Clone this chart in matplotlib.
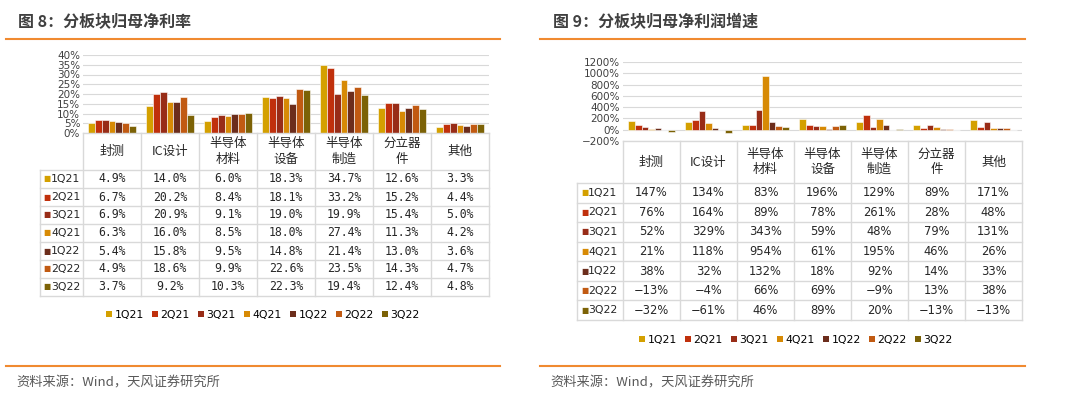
import numpy as np
import matplotlib
matplotlib.use("Agg")
import matplotlib.pyplot as plt
from matplotlib.patches import Patch
from matplotlib.lines import Line2D
from matplotlib.transforms import blended_transform_factory

plt.rcParams['font.family'] = ['Noto Sans CJK SC', 'DejaVu Sans']

categories = ['封测', 'IC设计', '半导体\n材料', '半导体\n设备', '半导体\n制造', '分立器\n件', '其他']
quarters = ['1Q21', '2Q21', '3Q21', '4Q21', '1Q22', '2Q22', '3Q22']
colors = ['#D4A000', '#C0300C', '#982C17', '#D78A05', '#6C2D1C', '#C15A12', '#7C6206']

# 归母净利率 (%)
margin = {
    '1Q21': [4.9, 14.0, 6.0, 18.3, 34.7, 12.6, 3.3],
    '2Q21': [6.7, 20.2, 8.4, 18.1, 33.2, 15.2, 4.4],
    '3Q21': [6.9, 20.9, 9.1, 19.0, 19.9, 15.4, 5.0],
    '4Q21': [6.3, 16.0, 8.5, 18.0, 27.4, 11.3, 4.2],
    '1Q22': [5.4, 15.8, 9.5, 14.8, 21.4, 13.0, 3.6],
    '2Q22': [4.9, 18.6, 9.9, 22.6, 23.5, 14.3, 4.7],
    '3Q22': [3.7, 9.2, 10.3, 22.3, 19.4, 12.4, 4.8],
}
# 归母净利润增速 (%)
growth = {
    '1Q21': [147, 134, 83, 196, 129, 89, 171],
    '2Q21': [76, 164, 89, 78, 261, 28, 48],
    '3Q21': [52, 329, 343, 59, 48, 79, 131],
    '4Q21': [21, 118, 954, 61, 195, 46, 26],
    '1Q22': [38, 32, 132, 18, 92, 14, 33],
    '2Q22': [-13, -4, 66, 69, -9, 13, 38],
    '3Q22': [-32, -61, 46, 89, 20, -13, -13],
}

W, H = 1080, 407
fig = plt.figure(figsize=(W / 100, H / 100), dpi=100)
ORANGE = '#F08A30'
GRID = '#D9D9D9'


def fy(px):
    return 1 - px / H


def fx(px):
    return px / W


def panel(rect, data, ylim, yticks, fmt, cell_fmt, tbl_top, hdr_bot, tbl_bot,
          lab_w, leg_xy, cell_font, cell_size):
    ax = fig.add_axes(rect)
    n = len(categories)
    x = np.arange(n)
    bw = 0.116
    for i, q in enumerate(quarters):
        ax.bar(x + (i - 3) * bw, data[q], width=bw, color=colors[i],
               edgecolor='white', linewidth=0.4, zorder=3)
    ax.set_xlim(-0.5, n - 0.5)
    ax.set_ylim(*ylim)
    ax.set_yticks(yticks)
    ax.set_yticklabels([fmt(v) for v in yticks], fontsize=7.5, color='#404040',
                       family='DejaVu Sans')
    ax.tick_params(axis='y', length=0, pad=2)
    ax.set_xticks([])
    ax.grid(axis='y', color=GRID, linewidth=0.8, zorder=0)
    for s in ax.spines.values():
        s.set_visible(False)

    # data table under the bars
    tr = blended_transform_factory(ax.transData, fig.transFigure)
    nrow = len(quarters)
    rh = (tbl_bot - hdr_bot) / nrow
    lc = dict(color=GRID, linewidth=1.0, transform=tr, clip_on=False)
    xl = -0.5 - lab_w
    # horizontal lines
    fig.add_artist(Line2D([-0.5, n - 0.5], [fy(tbl_top)] * 2, **lc))
    for r in range(nrow + 1):
        yy = fy(hdr_bot + r * rh)
        fig.add_artist(Line2D([xl, n - 0.5], [yy, yy], **lc))
    # vertical lines
    for c in range(n + 1):
        fig.add_artist(Line2D([c - 0.5] * 2, [fy(tbl_top), fy(tbl_bot)], **lc))
    fig.add_artist(Line2D([xl] * 2, [fy(hdr_bot), fy(tbl_bot)], **lc))
    # header
    for c, cat in enumerate(categories):
        fig.text(c, fy((tbl_top + hdr_bot) / 2), cat, transform=tr,
                 ha='center', va='center', fontsize=9, color='#262626',
                 linespacing=1.25)
    # rows
    for r, q in enumerate(quarters):
        yy = fy(hdr_bot + (r + 0.5) * rh)
        fig.text(xl + 0.06, yy, '■', transform=tr, ha='left', va='center',
                 fontsize=5.5, color=colors[r], family='DejaVu Sans')
        fig.text(xl + 0.19, yy, q, transform=tr, ha='left', va='center',
                 fontsize=7.8, color='#262626', family='DejaVu Sans')
        for c in range(n):
            fig.text(c, yy, cell_fmt(data[q][c]), transform=tr, ha='center',
                     va='center', fontsize=cell_size, color='#262626',
                     family=cell_font)

    handles = [Patch(facecolor=colors[i], edgecolor='none', label=q)
               for i, q in enumerate(quarters)]
    fig.legend(handles=handles, loc='center', bbox_to_anchor=leg_xy,
               ncol=7, frameon=False, handlelength=0.55,
               handleheight=0.55, handletextpad=0.2, columnspacing=0.8,
               prop={'family': 'DejaVu Sans', 'size': 7.8})
    return ax


# left panel
panel([fx(83), fy(133), fx(406), 78 / H], margin, (0, 40), np.arange(0, 41, 5),
      lambda v: f'{v:.0f}%', lambda v: f'{v:.1f}%',
      133, 170, 296, 0.74, (fx(263), fy(315)), 'DejaVu Sans Mono', 8.3)

# right panel
panel([fx(623), fy(141), fx(399), 79 / H], growth, (-200, 1200),
      np.arange(-200, 1201, 200),
      lambda v: f'{v:.0f}%'.replace('-', '−'),
      lambda v: f'{v:.0f}%'.replace('-', '−'),
      141, 183, 320, 0.8, (fx(796), fy(340)), 'DejaVu Sans', 8.3)

# titles, rules, sources
fig.text(fx(18), fy(21), '图 8：分板块归母净利率', fontsize=11.5, fontweight='bold',
         color='#404040', ha='left', va='center')
fig.text(fx(553), fy(22), '图 9：分板块归母净利润增速', fontsize=11.5, fontweight='bold',
         color='#404040', ha='left', va='center')
for x0, x1 in [(6, 500), (540, 1025)]:
    fig.add_artist(Line2D([fx(x0), fx(x1)], [fy(39)] * 2, color=ORANGE,
                          linewidth=1.5, transform=fig.transFigure))
    fig.add_artist(Line2D([fx(x0), fx(x1)], [fy(366)] * 2, color=ORANGE,
                          linewidth=1.5, transform=fig.transFigure))
fig.text(fx(16), fy(383), '资料来源：Wind，天风证券研究所', fontsize=9.5,
         color='#595959', ha='left', va='center')
fig.text(fx(550), fy(383), '资料来源：Wind，天风证券研究所', fontsize=9.5,
         color='#595959', ha='left', va='center')

fig.savefig('out.png', dpi=100)
